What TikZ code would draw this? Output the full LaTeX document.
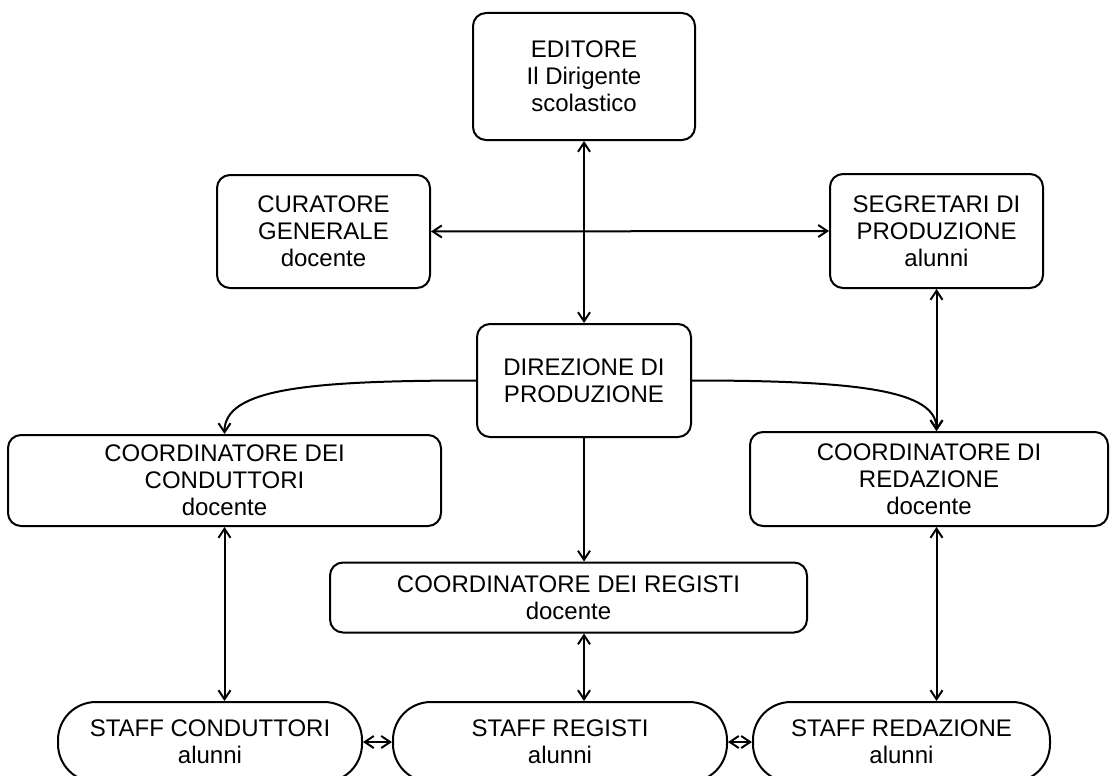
\documentclass[tikz,border=0pt]{standalone}
\usepackage{fontspec}
\setmainfont{Liberation Sans}
\usetikzlibrary{arrows.meta}

\tikzset{
	box/.style={draw, line width=2pt, rounded corners=13pt, align=center, inner sep=0pt,
		font=\fontsize{24}{27}\selectfont},
	staffbox/.style={box, rounded corners=38pt},
	link/.style={line width=2pt, {Straight Barb[length=9pt,width=12pt]}-{Straight Barb[length=9pt,width=12pt]}},
	feed/.style={line width=2pt, -{Straight Barb[length=9pt,width=12pt]}}
}

\begin{document}
\begin{tikzpicture}[x=1pt,y=1pt,yscale=-1,xscale=1]
		% Set diagram size to 1112 x 776
		\useasboundingbox (0,0) rectangle (1112,776);

		% The top box "EDITORE"
		\node[box, minimum width=222pt, minimum height=127pt] (editore) at (584,76.5) {EDITORE\\Il Dirigente\\scolastico};

		% The boxes at the sides
		\node[box, minimum width=213pt, minimum height=113pt] (curatore) at (323.5,231.5) {CURATORE\\GENERALE\\docente};
		\node[box, minimum width=213pt, minimum height=114pt] (segretari) at (936.5,231) {SEGRETARI DI\\PRODUZIONE\\alunni};

		% The middle box "DIREZIONE DI PRODUZIONE"
		\node[box, minimum width=214pt, minimum height=113pt] (direzione) at (584,380.5) {DIREZIONE DI\\PRODUZIONE};

		% The coordinators
		\node[box, minimum width=433pt, minimum height=91pt] (conduttori) at (224.5,480.5) {COORDINATORE DEI\\CONDUTTORI\\docente};
		\node[box, minimum width=358pt, minimum height=94pt] (redazione) at (929,479) {COORDINATORE DI\\REDAZIONE\\docente};
		\node[box, minimum width=477pt, minimum height=70pt] (registi) at (568.5,597.5) {COORDINATORE DEI REGISTI\\docente};

		% The staff boxes at the bottom (cut by the lower edge)
		\node[staffbox, minimum width=304pt, minimum height=80pt] (staffcond) at (210,742) {STAFF CONDUTTORI\\alunni};
		\node[staffbox, minimum width=334pt, minimum height=80pt] (staffreg) at (560,742) {STAFF REGISTI\\alunni};
		\node[staffbox, minimum width=297pt, minimum height=80pt] (staffred) at (901.5,742) {STAFF REDAZIONE\\alunni};

		% Double arrows between the upper boxes
		\draw[link] (editore.south) -- (direzione.north);
		\draw[link] (curatore.east) -- (segretari.west);
		\draw[link] (segretari.south) -- (segretari.south |- redazione.north);

		% Arrows leaving "DIREZIONE DI PRODUZIONE"
		\draw[feed] (direzione.west) to[out=180,in=-90,out distance=170,in distance=45] (conduttori.north);
		\draw[feed] (direzione.east) to[out=0,in=-90,out distance=170,in distance=40] (segretari.south |- redazione.north);
		\draw[feed] (direzione.south) -- (direzione.south |- registi.north);

		% Double arrows down to the staff
		\draw[link] (conduttori.south) -- (conduttori.south |- staffcond.north);
		\draw[link] (direzione.south |- registi.south) -- (direzione.south |- staffreg.north);
		\draw[link] (segretari.south |- redazione.south) -- (segretari.south |- staffred.north);

		% Double arrows between the staff boxes
		\draw[link] (staffcond.east) -- (staffreg.west);
		\draw[link] (staffreg.east) -- (staffred.west);
	\end{tikzpicture}
\end{document}
